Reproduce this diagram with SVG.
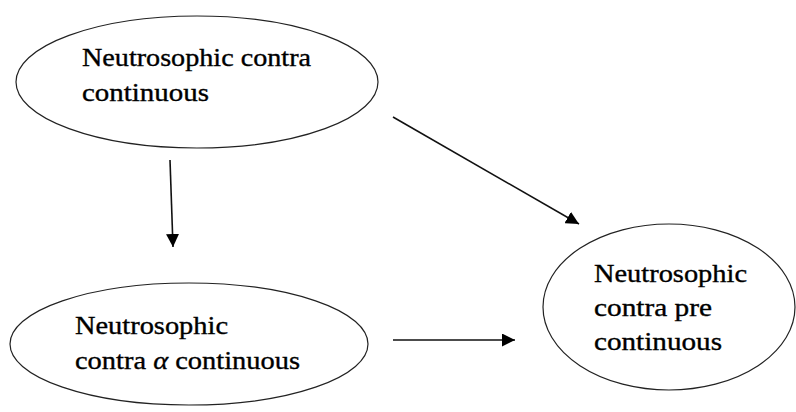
<svg xmlns="http://www.w3.org/2000/svg" width="796" height="412" viewBox="0 0 796 412">
<defs>
<style>
.node ellipse{fill:#fff;stroke:#222;stroke-width:1.2}
.lbl{font-family:"Liberation Serif","Times New Roman",serif;font-size:25px;fill:#000;stroke:#000;stroke-width:0.35}
.edge{stroke:#111;stroke-width:1.6;fill:none;marker-end:url(#ah)}
</style>
<marker id="ah" viewBox="0 0 10 10" refX="10" refY="5" markerWidth="13" markerHeight="13" markerUnits="userSpaceOnUse" orient="auto">
<path d="M0,0 L10,5 L0,10 z" fill="#000"/>
</marker>
</defs>
<rect width="796" height="412" fill="#fff"/>
<g id="n1" class="node">
<ellipse cx="197" cy="82" rx="181" ry="66"/>
<text class="lbl" x="82" y="66" textLength="229" lengthAdjust="spacingAndGlyphs">Neutrosophic contra</text>
<text class="lbl" x="82" y="101" textLength="127" lengthAdjust="spacingAndGlyphs">continuous</text>
</g>
<g id="n2" class="node">
<ellipse cx="189" cy="344" rx="179" ry="61"/>
<text class="lbl" x="75" y="334" textLength="153" lengthAdjust="spacingAndGlyphs">Neutrosophic</text>
<text class="lbl" x="75" y="369" textLength="225" lengthAdjust="spacingAndGlyphs">contra <tspan font-style="italic">α</tspan> continuous</text>
</g>
<g id="n3" class="node">
<ellipse cx="669" cy="307" rx="126" ry="83"/>
<text class="lbl" x="594" y="282" textLength="153" lengthAdjust="spacingAndGlyphs">Neutrosophic</text>
<text class="lbl" x="594" y="316" textLength="118" lengthAdjust="spacingAndGlyphs">contra pre</text>
<text class="lbl" x="594" y="350" textLength="128" lengthAdjust="spacingAndGlyphs">continuous</text>
</g>
<g id="edges">
<line class="edge" x1="170" y1="160" x2="173" y2="247"/>
<line class="edge" x1="393" y1="117" x2="579" y2="224"/>
<line class="edge" x1="393" y1="340" x2="515" y2="340"/>
</g>
</svg>
